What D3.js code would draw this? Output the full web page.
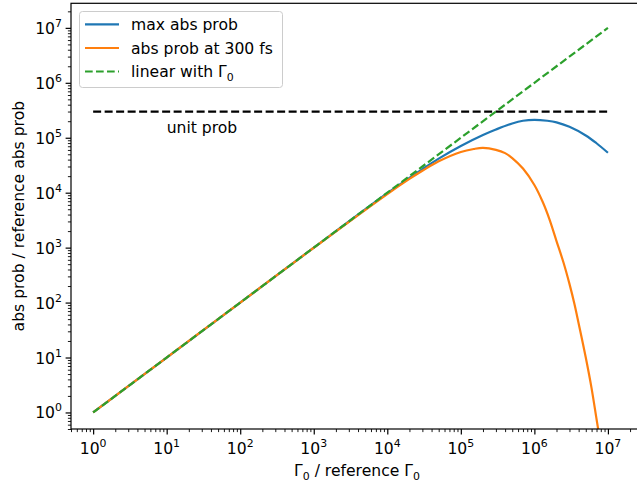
<!DOCTYPE html>
<html>
<head>
<meta charset="utf-8">
<script src="https://cdn.jsdelivr.net/npm/d3@7"></script>
<style>
  body { margin: 0; background: #fff; }
  svg { display: block; font-family: "DejaVu Sans", sans-serif; }
</style>
</head>
<body>
<svg id="chart" width="637" height="487"></svg>
<script>
// ---- data ----
const xMax = [1, 10, 100, 1e3, 1e4, 2e4, 3e4, 5e4, 1e5, 2e5, 3e5, 5e5, 7e5, 1e6, 1.5e6, 2e6, 3e6, 5e6, 7e6, 1e7];
const yMax = [1, 10, 100, 1000, 9770, 18600, 26900, 41700, 70800, 112000, 141000, 182000, 204000, 212000, 204000, 191000, 158000, 110000, 79400, 53300];

const x300 = [1, 10, 100, 1e3, 1e4, 2e4, 3e4, 5e4, 1e5, 1.5e5, 2e5, 3e5, 4e5, 5e5, 7e5, 1e6, 1.3e6, 1.6e6, 2e6, 2.5e6, 3e6, 3.5e6, 4e6, 5e6, 6e6, 7e6, 7.5e6];
const y300 = [1, 10, 100, 995, 9440, 17800, 25100, 37200, 55000, 62400, 65300, 60300, 52500, 42700, 27500, 13800, 6760, 3310, 1318, 525, 219, 95.5, 41.7, 10, 2.75, 0.76, 0.43];

const xLinear = [1, 1e7];
const yLinear = [1, 1e7];

const unitProb = 3e5;
const unitProbRange = [1, 1e7];
const unitLabelPos = [10, 1.2e5];

const xTickExps = [0, 1, 2, 3, 4, 5, 6, 7];
const yTickExps = [0, 1, 2, 3, 4, 5, 6, 7];

const seriesNames = ["max abs prob", "abs prob at 300 fs", "linear with Γ"];
const colors = ["#1f77b4", "#ff7f0e", "#2ca02c"];

// ---- layout ----
const svg = d3.select("#chart");
const W = 637, H = 487;
svg.append("rect").attr("width", W).attr("height", H).attr("fill", "#fff");

const L = 71, R = 643, T = 3.3, B = 429;
const x = d3.scaleLog().domain([0.5, 3e7]).range([L, R]);
const y = d3.scaleLog().domain([0.5, 2.8e7]).range([B, T]);

const FS = 15.6;
const SUP = FS * 0.7;

svg.append("clipPath").attr("id", "clip")
  .append("rect").attr("x", L).attr("y", T).attr("width", R - L).attr("height", B - T);

const plot = svg.append("g").attr("clip-path", "url(#clip)");

const line = d3.line().x(d => x(d[0])).y(d => y(d[1])).curve(d3.curveCatmullRom.alpha(0.5));

// unit prob line
plot.append("path")
  .attr("d", line(unitProbRange.map(v => [v, unitProb])))
  .attr("fill", "none").attr("stroke", "#000").attr("stroke-width", 2.2)
  .attr("stroke-dasharray", "8,3.5");

plot.append("path")
  .attr("d", line(xMax.map((v, i) => [v, yMax[i]])))
  .attr("fill", "none").attr("stroke", colors[0]).attr("stroke-width", 2.2);

plot.append("path")
  .attr("d", line(x300.map((v, i) => [v, y300[i]])))
  .attr("fill", "none").attr("stroke", colors[1]).attr("stroke-width", 2.2);

plot.append("path")
  .attr("d", line(xLinear.map((v, i) => [v, yLinear[i]])))
  .attr("fill", "none").attr("stroke", colors[2]).attr("stroke-width", 2.2)
  .attr("stroke-dasharray", "7.7,3.3");

svg.append("text")
  .attr("x", x(unitLabelPos[0])).attr("y", y(unitLabelPos[1]))
  .attr("font-size", FS).attr("fill", "#000").text("unit prob");

// ---- axes ----
const minorVals = (lo, hi) => {
  const out = [];
  for (let e = -1; e <= 7; e++) for (let m = 2; m <= 9; m++) {
    const v = m * Math.pow(10, e);
    if (v >= lo && v <= hi) out.push(v);
  }
  return out;
};

const gx = svg.append("g").attr("transform", `translate(0,${B})`);
gx.call(d3.axisBottom(x).tickValues(minorVals(0.5, 3e7)).tickSize(3.1).tickFormat(""))
  .call(g => g.select(".domain").remove())
  .call(g => g.selectAll("line").attr("stroke", "#000").attr("stroke-width", 0.9));
const gx2 = svg.append("g").attr("transform", `translate(0,${B})`);
gx2.call(d3.axisBottom(x).tickValues(xTickExps.map(e => Math.pow(10, e))).tickSize(5.4).tickFormat(""))
  .call(g => g.select(".domain").remove())
  .call(g => g.selectAll("line").attr("stroke", "#000").attr("stroke-width", 1.2));
xTickExps.forEach(e => {
  const t = svg.append("text").attr("x", x(Math.pow(10, e))).attr("y", 454)
    .attr("text-anchor", "middle").attr("font-size", FS).attr("fill", "#000");
  t.append("tspan").text("10");
  t.append("tspan").attr("dy", -7).attr("font-size", SUP).text(e);
});

const gy = svg.append("g").attr("transform", `translate(${L},0)`);
gy.call(d3.axisLeft(y).tickValues(minorVals(0.5, 2.8e7)).tickSize(3.1).tickFormat(""))
  .call(g => g.select(".domain").remove())
  .call(g => g.selectAll("line").attr("stroke", "#000").attr("stroke-width", 0.9));
const gy2 = svg.append("g").attr("transform", `translate(${L},0)`);
gy2.call(d3.axisLeft(y).tickValues(yTickExps.map(e => Math.pow(10, e))).tickSize(5.4).tickFormat(""))
  .call(g => g.select(".domain").remove())
  .call(g => g.selectAll("line").attr("stroke", "#000").attr("stroke-width", 1.2));
yTickExps.forEach(e => {
  const t = svg.append("text").attr("x", 62).attr("y", y(Math.pow(10, e)) + 6)
    .attr("text-anchor", "end").attr("font-size", FS).attr("fill", "#000");
  t.append("tspan").text("10");
  t.append("tspan").attr("dy", -7).attr("font-size", SUP).text(e);
});

// frame
svg.append("rect").attr("x", L).attr("y", T).attr("width", R - L).attr("height", B - T)
  .attr("fill", "none").attr("stroke", "#000").attr("stroke-width", 1.2);

// axis labels
const xl = svg.append("text").attr("x", (L + R) / 2).attr("y", 476)
  .attr("text-anchor", "middle").attr("font-size", FS).attr("fill", "#000");
xl.append("tspan").text("Γ");
xl.append("tspan").attr("dy", 3.5).attr("font-size", SUP).text("0");
xl.append("tspan").attr("dy", -3.5).text(" / reference Γ");
xl.append("tspan").attr("dy", 3.5).attr("font-size", SUP).text("0");

svg.append("text").attr("transform", `translate(24,${(T + B) / 2}) rotate(-90)`)
  .attr("text-anchor", "middle").attr("font-size", FS).attr("fill", "#000")
  .text("abs prob / reference abs prob");

// legend
const lg = svg.append("g");
lg.append("rect").attr("x", 79.5).attr("y", 11.5).attr("width", 203).attr("height", 76)
  .attr("rx", 3).attr("fill", "#fff").attr("fill-opacity", 0.8)
  .attr("stroke", "#cccccc").attr("stroke-width", 1);
const rows = [24.3, 48, 71.5];
seriesNames.forEach((name, i) => {
  lg.append("line").attr("x1", 85).attr("x2", 119).attr("y1", rows[i]).attr("y2", rows[i])
    .attr("stroke", colors[i]).attr("stroke-width", 2.2)
    .attr("stroke-dasharray", i === 2 ? "7.7,3.3" : null);
  const t = lg.append("text").attr("x", 131).attr("y", rows[i] + 5.5)
    .attr("font-size", FS).attr("fill", "#000");
  t.append("tspan").text(name);
  if (i === 2) t.append("tspan").attr("dy", 3.5).attr("font-size", SUP).text("0");
});
</script>
</body>
</html>
